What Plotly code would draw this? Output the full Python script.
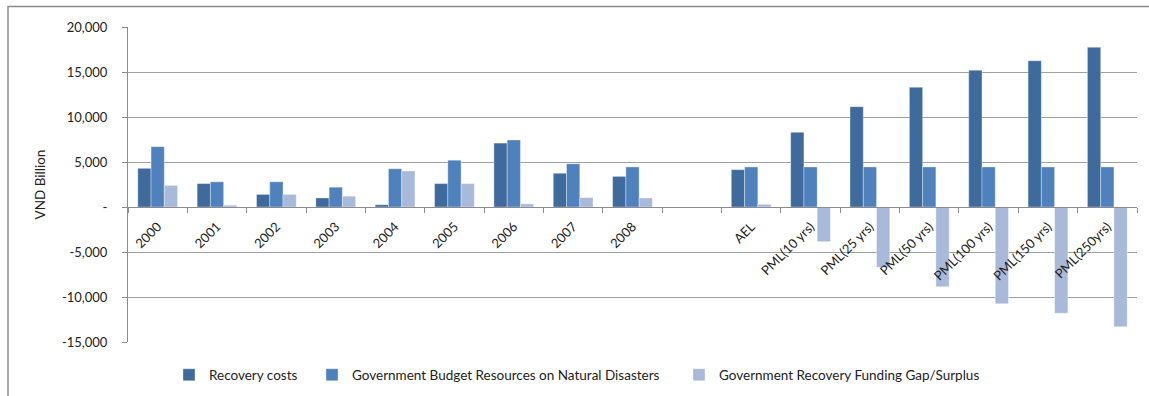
import plotly.graph_objects as go

# Categories: historical years, a spacer slot, then loss metrics
categories = ["2000", "2001", "2002", "2003", "2004", "2005", "2006", "2007", "2008", " ",
              "AEL", "PML(10 yrs)", "PML(25 yrs)", "PML(50 yrs)", "PML(100 yrs)",
              "PML(150 yrs)", "PML(250yrs)"]

# VND billion
recovery_costs = [4300, 2600, 1400, 1000, 250, 2600, 7100, 3750, 3400, None,
                  4150, 8300, 11150, 13300, 15200, 16250, 17750]
budget_resources = [6700, 2800, 2800, 2200, 4250, 5200, 7450, 4800, 4450, None,
                    4450, 4450, 4450, 4450, 4450, 4450, 4450]
funding_gap = [2400, 200, 1400, 1200, 4000, 2600, 350, 1050, 1000, None,
               300, -3850, -6700, -8850, -10750, -11800, -13300]

y_tickvals = [-15000, -10000, -5000, 0, 5000, 10000, 15000, 20000]
y_ticktext = ["-15,000", "-10,000", "-5,000", "-", "5,000", "10,000", "15,000", "20,000"]

series_names = ["Recovery costs",
                "Government Budget Resources on Natural Disasters",
                "Government Recovery Funding Gap/Surplus"]
series_colors = ["#3E6A9C", "#4F81BD", "#A9B9D9"]
series_values = [recovery_costs, budget_resources, funding_gap]
legend_ids = ["legend", "legend2", "legend3"]

FONT = "Lato, 'Open Sans', sans-serif"
GRID = "#A0A0A0"

fig = go.Figure()
for name, color, vals, lg in zip(series_names, series_colors, series_values, legend_ids):
    fig.add_trace(go.Bar(
        x=categories, y=vals, name=name, legend=lg, showlegend=True,
        marker=dict(color=color, line=dict(color="rgba(255,255,255,0.35)", width=1)),
    ))

W, H = 1149, 396
ML, MR, MT, MB = 128, 12, 27, 54
pw, ph = W - ML - MR, H - MT - MB


def px_x(px):
    return (px - ML) / pw


def px_y(py):
    return (H - MB - py) / ph


legend_common = dict(orientation="h", yanchor="middle", xanchor="left",
                     xref="container", yref="container",
                     bgcolor="rgba(0,0,0,0)", font=dict(family=FONT, size=13.5, color="#222"),
                     itemwidth=30)

fig.update_layout(
    width=W, height=H,
    margin=dict(l=ML, r=MR, t=MT, b=MB, autoexpand=False),
    paper_bgcolor="white", plot_bgcolor="white",
    font=dict(family=FONT, size=12, color="#222"),
    showlegend=True,
    barmode="group", bargap=0.33, bargroupgap=0,
    legend=dict(x=169 / W, y=1 - 375 / H, **legend_common),
    legend2=dict(x=312 / W, y=1 - 375 / H, **legend_common),
    legend3=dict(x=679 / W, y=1 - 375 / H, **legend_common),
    xaxis=dict(
        type="category", categoryorder="array", categoryarray=categories,
        anchor="free", position=15000 / 35000,
        showline=True, linecolor="#8C8C8C", linewidth=1,
        ticks="outside", tickson="boundaries", ticklen=5, tickcolor="#8C8C8C",
        tickangle=-45, tickfont=dict(family=FONT, size=13, color="#222"),
        ticklabelstandoff=6,
        showgrid=False, automargin=False,
    ),
    yaxis=dict(
        range=[-15000, 20000], domain=[0, 1],
        tickvals=y_tickvals, ticktext=y_ticktext,
        showline=True, linecolor="#8C8C8C", linewidth=1,
        ticks="outside", ticklen=5, tickcolor="#8C8C8C", ticklabelstandoff=12,
        showgrid=True, gridcolor=GRID, gridwidth=1, zeroline=False,
        tickfont=dict(family=FONT, size=13, color="#222"),
        title=dict(text="VND Billion", standoff=13, font=dict(family=FONT, size=13.5, color="#222")),
        automargin=False,
    ),
    shapes=[
        dict(type="rect", xref="paper", yref="paper",
             x0=px_x(8), x1=px_x(1170), y0=px_y(420), y1=px_y(6.5),
             line=dict(color="#8C8C8C", width=1.5), fillcolor="rgba(0,0,0,0)", layer="below"),
    ],
)

fig.write_html("out.html")
